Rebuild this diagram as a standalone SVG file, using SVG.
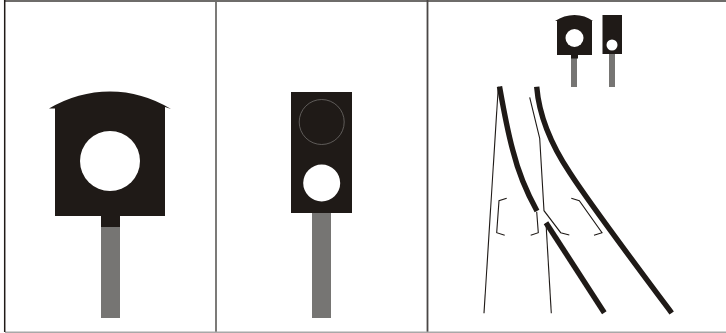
<svg xmlns="http://www.w3.org/2000/svg" width="726" height="333" viewBox="0 0 726 333">
<style>
.k{fill:#1f1a17}
.p{fill:#767573}
.w{fill:#fff}
.f{stroke:#6e6c6a;stroke-width:1.8;fill:none}
.t{stroke:#1f1a17;stroke-width:5.4;fill:none}
.n{stroke:#1f1a17;stroke-width:1.1;fill:none}
</style>
<rect width="726" height="333" fill="#fff"/>
<g id="frame">
<path class="f" d="M4 1H726"/>
<path class="f" d="M216 0V332"/>
<path d="M427.500 0V332" stroke="#4a4745" stroke-width="1.8"/>
<path d="M5 332.300H726" stroke="#a8a8a8" stroke-width="1.4"/>
<path d="M4.700 0V332" stroke="#1f1a17" stroke-width="1.5"/>
</g>
<g id="signal-large-round">
<rect class="p" x="101" y="227" width="19" height="91"/>
<rect class="k" x="101" y="214" width="19" height="13"/>
<path class="k" d="M55 216V108.500L49 108.500Q78 91.500 110 91.500Q142 91.500 171 109L165 107V216Z"/>
<circle class="w" cx="110" cy="161" r="30"/>
</g>
<g id="signal-large-rect">
<rect class="p" x="312" y="213" width="19" height="105"/>
<rect class="k" x="291" y="92" width="61" height="121"/>
<circle cx="321.700" cy="122" r="22.500" fill="none" stroke="#6e6c6a" stroke-width=".8"/>
<circle class="w" cx="321.700" cy="183" r="18.500"/>
</g>
<g id="signal-small-round">
<rect class="p" x="571" y="58" width="6" height="29"/>
<rect class="k" x="571" y="54" width="7" height="4.500"/>
<path class="k" d="M557 55V21L555 21Q564 15 574.500 15Q585 15 593 21L592 21V55Z"/>
<circle class="w" cx="574.500" cy="38" r="9"/>
</g>
<g id="signal-small-rect">
<rect class="p" x="609" y="54" width="6" height="33"/>
<rect class="k" x="602.500" y="15" width="19.500" height="39"/>
<circle class="w" cx="612" cy="45" r="5.500"/>
</g>
<g id="connectors">
<path class="t" d="M499.500 86.500C504 112 508 133 513 151C519 175 527 193 537 211"/>
<path class="t" d="M536.700 86.700C539 115 552 146 570 173C590 204 632 260 671.700 313"/>
<path class="t" d="M546 222.700L604.300 312.700"/>
<path class="n" d="M498.300 86.700L484 313.300"/>
<path class="n" d="M529.700 97.300L539.700 138.300L544 210.700L560.700 232.700L569.300 235"/>
<path class="n" d="M546 223.300L551.300 313.300"/>
<path class="n" d="M506.700 198.300L499 200.700L496.700 232.700L504.700 235.300"/>
<path class="n" d="M536.700 211.700L538.300 232.700L530.700 235.300"/>
<path class="n" d="M571.300 198.300L579.300 200.700L602 232.700L594 235.300"/>
</g>
</svg>
